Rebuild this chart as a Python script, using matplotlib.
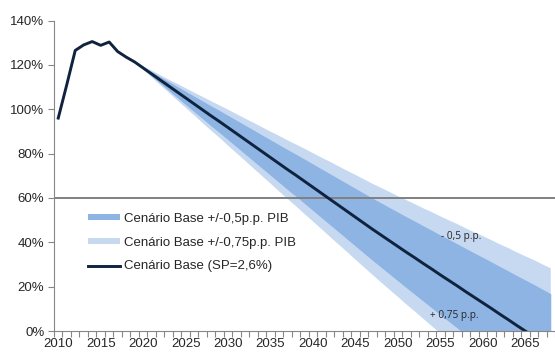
import matplotlib
matplotlib.use("Agg")
import matplotlib.pyplot as plt
from matplotlib.patches import Patch
from matplotlib.lines import Line2D

plt.rcParams['font.family'] = ['Liberation Sans', 'DejaVu Sans']

# Cenário base: dívida em % do PIB (inclui extrapolação abaixo de 0, cortada pelo eixo)
anos = list(range(2010, 2069))
base = [96.0, 111.0, 126.5, 129.0, 130.5, 128.8, 130.3, 126.0, 123.5, 121.3,
        118.6, 115.9, 113.2, 110.5, 107.8, 105.1, 102.4, 99.7, 97.0, 94.4,
        91.7, 89.0, 86.3, 83.6, 80.9, 78.2, 75.5, 72.8, 70.2, 67.5,
        64.8, 62.1, 59.4, 56.7, 54.0, 51.3, 48.6, 45.9, 43.3, 40.7,
        38.1, 35.5, 33.0, 30.4, 27.9, 25.3, 22.8, 20.3, 17.7, 15.2,
        12.7, 10.2, 7.6, 5.1, 2.5, 0.0, -2.5, -5.1, -7.6]

# amplitude das bandas (p.p. do PIB) a partir de 2019
anos_banda = list(range(2019, 2069))
amp_05 = [0.0, 0.5, 1.0, 1.5, 2.0, 2.5, 3.0, 3.5, 4.0, 4.5,
          5.0, 5.5, 6.0, 6.5, 7.0, 7.5, 8.0, 8.5, 9.0, 9.5,
          10.0, 10.5, 11.0, 11.5, 12.0, 12.5, 13.0, 13.5, 14.0, 14.5,
          15.0, 15.5, 16.0, 16.5, 17.0, 17.5, 18.0, 18.5, 19.0, 19.5,
          20.0, 20.5, 21.0, 21.5, 22.0, 22.5, 23.0, 23.5, 24.0, 24.4]
amp_075 = [0.0, 0.7, 1.5, 2.2, 2.9, 3.7, 4.4, 5.1, 5.9, 6.6,
           7.3, 8.1, 8.8, 9.5, 10.3, 11.0, 11.7, 12.5, 13.2, 13.9,
           14.7, 15.4, 16.1, 16.9, 17.6, 18.3, 19.1, 19.8, 20.5, 21.3,
           22.0, 22.7, 23.5, 24.2, 24.9, 25.7, 26.4, 27.1, 27.9, 28.6,
           29.3, 30.1, 30.8, 31.5, 32.3, 33.0, 33.7, 34.5, 35.2, 35.9]

limite = 60
rotulos_x = [2010, 2015, 2020, 2025, 2030, 2035, 2040, 2045, 2050, 2055, 2060, 2065]
rotulos_y = [0, 20, 40, 60, 80, 100, 120, 140]

cor_escura = '#8db4e2'
cor_clara = '#c6d9f1'
cor_linha = '#0f233f'

fig = plt.figure(figsize=(5.55, 3.55), dpi=100)
ax = fig.add_axes([54 / 555, 24 / 355, 501 / 555, 310.5 / 355])

base_b = base[anos.index(2019):]
ax.fill_between(anos_banda, [b - a for b, a in zip(base_b, amp_075)],
                [b + a for b, a in zip(base_b, amp_075)], color=cor_clara, lw=0)
ax.fill_between(anos_banda, [b - a for b, a in zip(base_b, amp_05)],
                [b + a for b, a in zip(base_b, amp_05)], color=cor_escura, lw=0)
ax.axhline(limite, color='#808080', lw=1.4)
ax.plot(anos, base, color=cor_linha, lw=2.1, solid_joinstyle='round')

ax.set_xlim(2009.5, 2068.5)
ax.set_ylim(0, 140)
ax.set_yticks(rotulos_y)
ax.set_yticklabels([f'{v}%' for v in rotulos_y])
ax.set_xticks(rotulos_x)
ax.set_xticklabels([str(a) for a in rotulos_x])
ax.set_xticks([2009.5 + i for i in range(60)], minor=True)
ax.tick_params(axis='x', which='major', length=0, pad=5, labelsize=9.5, colors='#262626')
ax.tick_params(axis='x', which='minor', length=4, color='#868686', width=0.8)
ax.tick_params(axis='y', length=4, color='#868686', width=0.8, labelsize=9.5,
               labelcolor='#262626', pad=3)

for lado in ['top', 'right']:
    ax.spines[lado].set_visible(False)
for lado in ['left', 'bottom']:
    ax.spines[lado].set_color('#868686')
    ax.spines[lado].set_linewidth(0.8)

handles = [Patch(facecolor=cor_escura, edgecolor='none'),
           Patch(facecolor=cor_clara, edgecolor='none'),
           Line2D([], [], color=cor_linha, lw=2.1)]
labels = ['Cenário Base +/-0,5p.p. PIB', 'Cenário Base +/-0,75p.p. PIB',
          'Cenário Base (SP=2,6%)']
leg = ax.legend(handles, labels, loc='upper left', bbox_to_anchor=(0.057, 0.398),
                frameon=False, fontsize=9.5, handlelength=2.4, handleheight=0.35,
                handletextpad=0.35, labelspacing=0.9, borderaxespad=0)
for t in leg.get_texts():
    t.set_color('#262626')

ax.text(2057.5, 42.4, '- 0,5 p.p.', fontsize=7.3, family=['Open Sans', 'DejaVu Sans'],
        color='#262626', ha='center', va='center')
ax.text(2056.7, 6.8, '+ 0,75 p.p.', fontsize=7.3, family=['Open Sans', 'DejaVu Sans'],
        color='#262626', ha='center', va='center')

fig.savefig('out.png', dpi=100)
